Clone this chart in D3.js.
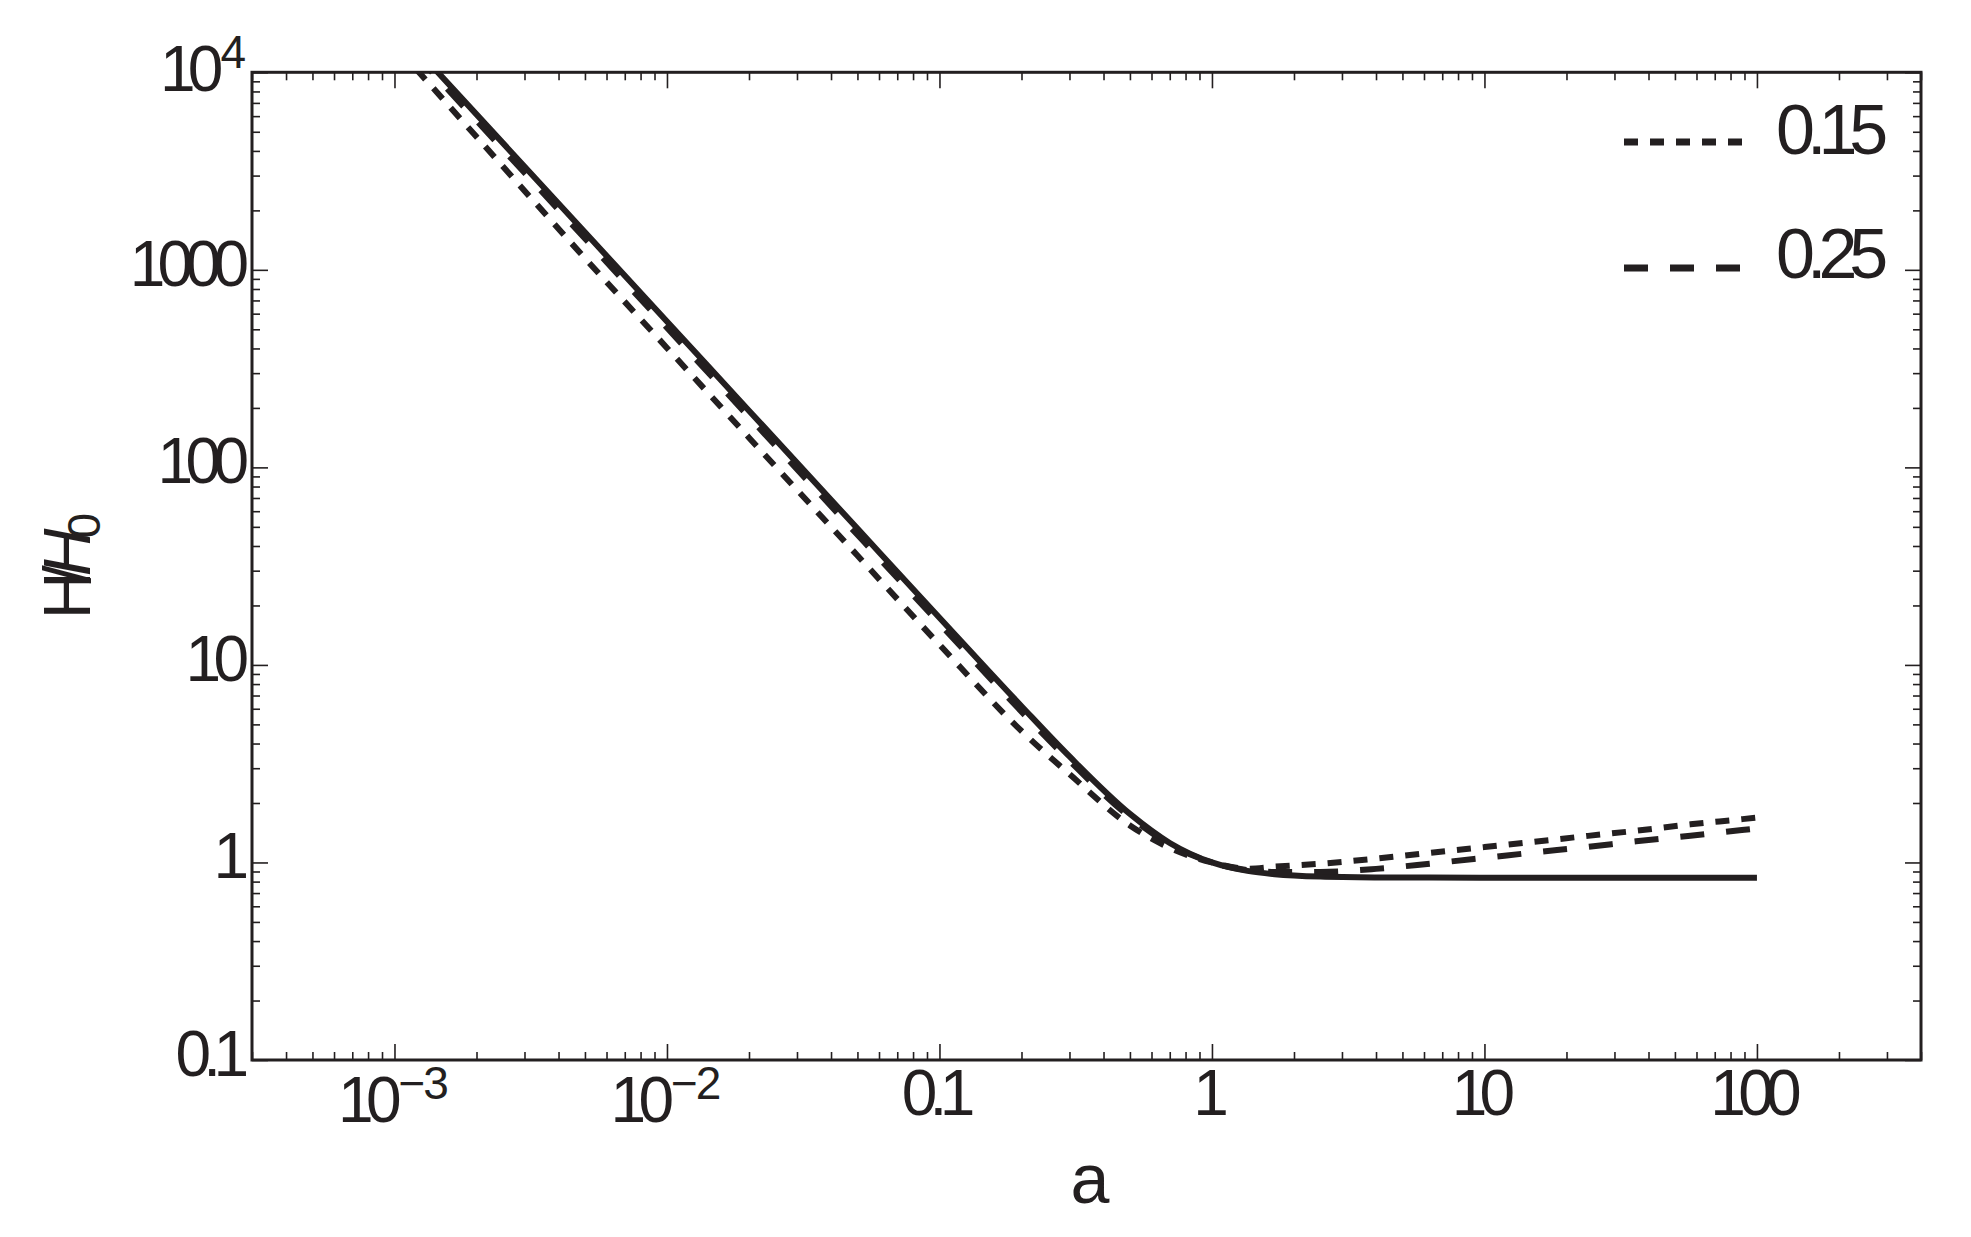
<!DOCTYPE html>
<html>
<head>
<meta charset="utf-8">
<script src="https://cdn.jsdelivr.net/npm/d3@7"></script>
<style>
  html, body { margin: 0; padding: 0; background: #ffffff; }
  svg { display: block; }
  text { font-family: "Liberation Sans", Arial, Helvetica, sans-serif; fill: #231f20; }
</style>
</head>
<body>
<svg id="chart" width="1971" height="1237"></svg>
<script>
// ---------------- data ----------------
const aValues = [0.0012, 0.002, 0.005, 0.01, 0.02, 0.05, 0.1, 0.2, 0.3, 0.5, 0.7, 1, 1.35, 1.7, 2.5, 4, 6.3, 10, 15, 24, 36, 57, 88, 100];
const hSolid  = [13180, 6124, 1549, 547.7, 193.7, 49.0, 17.34, 6.18, 3.44, 1.761, 1.255, 1.0, 0.907, 0.872, 0.848, 0.840, 0.838, 0.837, 0.837, 0.837, 0.837, 0.837, 0.837, 0.837];
const h015    = [10400, 4715, 1146, 402.5, 141.4, 35.8, 12.66, 4.63, 2.80, 1.54, 1.186, 1.0, 0.93, 0.952, 0.985, 1.046, 1.119, 1.196, 1.270, 1.363, 1.447, 1.560, 1.656, 1.687];
const h025    = [12260, 5695, 1441, 509, 180, 45.6, 16.2, 5.8, 3.27, 1.70, 1.235, 1.0, 0.915, 0.895, 0.896, 0.928, 0.986, 1.055, 1.121, 1.200, 1.279, 1.365, 1.459, 1.487];

const legendLabels = ["0.15", "0.25"];
const xMajorTicks = [1e-3, 1e-2, 0.1, 1, 10, 100];
const xTickLabels = [["10", "\u22123"], ["10", "\u22122"], ["0.1"], ["1"], ["10"], ["100"]];
const yMajorTicks = [0.1, 1, 10, 100, 1000, 1e4];
const yTickLabels = [["0.1"], ["1"], ["10"], ["100"], ["1000"], ["10", "4"]];

// ---------------- layout ----------------
const W = 1971, H = 1237;
const pLeft = 252, pRight = 1921, pTop = 72.3, pBottom = 1060;
const ink = "#231f20";

const svg = d3.select("#chart");
svg.append("rect").attr("width", W).attr("height", H).attr("fill", "#fff");

const x = d3.scaleLog().domain([3e-4, 400]).range([pLeft, pRight]);
const y = d3.scaleLog().domain([0.1, 1e4]).range([pBottom, pTop]);

function minorTicks(domain, majors) {
  const out = [];
  for (let e = -5; e <= 5; e++) {
    for (let k = 1; k <= 9; k++) {
      const v = k * Math.pow(10, e);
      if (v >= domain[0] * 0.9999 && v <= domain[1] * 1.0001 && !majors.some(m => Math.abs(m - v) / m < 1e-6)) out.push(+v.toPrecision(6));
    }
  }
  return out;
}
const xMinor = minorTicks(x.domain(), xMajorTicks);
const yMinor = minorTicks(y.domain(), yMajorTicks);

function drawAxis(gen, transform, values, size) {
  const g = svg.append("g").attr("transform", transform)
    .call(gen.tickValues(values).tickSize(-size).tickFormat(""));
  g.select(".domain").remove();
  g.selectAll(".tick line").attr("stroke", ink).attr("stroke-width", 1.6);
  return g;
}
// inward ticks on all four sides
drawAxis(d3.axisBottom(x), `translate(0,${pBottom})`, xMajorTicks, 16);
drawAxis(d3.axisBottom(x), `translate(0,${pBottom})`, xMinor, 8);
drawAxis(d3.axisTop(x), `translate(0,${pTop})`, xMajorTicks, 16);
drawAxis(d3.axisTop(x), `translate(0,${pTop})`, xMinor, 8);
drawAxis(d3.axisLeft(y), `translate(${pLeft},0)`, yMajorTicks, 16);
drawAxis(d3.axisLeft(y), `translate(${pLeft},0)`, yMinor, 8);
drawAxis(d3.axisRight(y), `translate(${pRight},0)`, yMajorTicks, 16);
drawAxis(d3.axisRight(y), `translate(${pRight},0)`, yMinor, 8);

// frame
svg.append("rect").attr("x", pLeft).attr("y", pTop).attr("width", pRight - pLeft).attr("height", pBottom - pTop)
  .attr("fill", "none").attr("stroke", ink).attr("stroke-width", 3);

// tight spacing via per-character dx (no trailing spacing)
function tight(str, gap, first) {
  return Array.from(str).map((c, i) => i === 0 ? (first || 0) : -gap).join(" ");
}

// x tick labels
xMajorTicks.forEach((v, i) => {
  const parts = xTickLabels[i];
  const t = svg.append("text").attr("text-anchor", "middle").attr("font-size", 64)
    .attr("x", x(v) - 1).attr("y", parts.length > 1 ? 1122 : 1115);
  t.append("tspan").attr("dx", tight(parts[0], 7.7)).text(parts[0]);
  if (parts.length > 1) t.append("tspan").attr("font-size", 46).attr("dy", -23)
    .attr("dx", tight(parts[1], 2, -3)).text(parts[1]);
});

// y tick labels
yMajorTicks.forEach((v, i) => {
  const parts = yTickLabels[i];
  const t = svg.append("text").attr("text-anchor", "end").attr("font-size", 64)
    .attr("x", parts.length > 1 ? 246 : 249).attr("y", y(v) + (parts.length > 1 ? 18.4 : 15.8));
  t.append("tspan").attr("dx", tight(parts[0], 7.7)).text(parts[0]);
  if (parts.length > 1) t.append("tspan").attr("font-size", 46).attr("dy", -23)
    .attr("dx", -3).text(parts[1]);
});

// axis titles
svg.append("text").attr("x", 1090).attr("y", 1203).attr("text-anchor", "middle")
  .attr("font-size", 70).text("a");
const yt = svg.append("text").attr("transform", "translate(90,566) rotate(-90)")
  .attr("text-anchor", "middle").attr("font-size", 66);
yt.append("tspan").attr("dx", "0 -12").text("H/");
yt.append("tspan").attr("font-style", "italic").attr("dx", -11).text("H");
yt.append("tspan").attr("font-size", 46).attr("dy", 10).attr("dx", -10).text("0");

// curves
const clip = svg.append("clipPath").attr("id", "plotclip");
clip.append("rect").attr("x", pLeft).attr("y", pTop).attr("width", pRight - pLeft).attr("height", pBottom - pTop);

const line = d3.line().x(d => x(d[0])).y(d => y(d[1])).curve(d3.curveMonotoneX);
const series = [
  { vals: hSolid, dash: null },
  { vals: h025, dash: "24 22" },
  { vals: h015, dash: "14 12" }
];
const plot = svg.append("g").attr("clip-path", "url(#plotclip)");
series.forEach(s => {
  plot.append("path").datum(aValues.map((a, i) => [a, s.vals[i]]))
    .attr("d", line).attr("fill", "none").attr("stroke", ink).attr("stroke-width", 6)
    .attr("stroke-dasharray", s.dash);
});

// legend
const legendDash = ["14 12", "24 22"];
const legendY = [142, 268];
legendLabels.forEach((lab, i) => {
  svg.append("line").attr("x1", 1624).attr("x2", 1743).attr("y1", legendY[i]).attr("y2", legendY[i])
    .attr("stroke", ink).attr("stroke-width", 7).attr("stroke-dasharray", legendDash[i]);
  svg.append("text").attr("x", 1776).attr("y", legendY[i] + (i === 0 ? 12 : 10))
    .attr("font-size", 70).attr("dx", tight(lab, 8)).text(lab);
});
</script>
</body>
</html>
